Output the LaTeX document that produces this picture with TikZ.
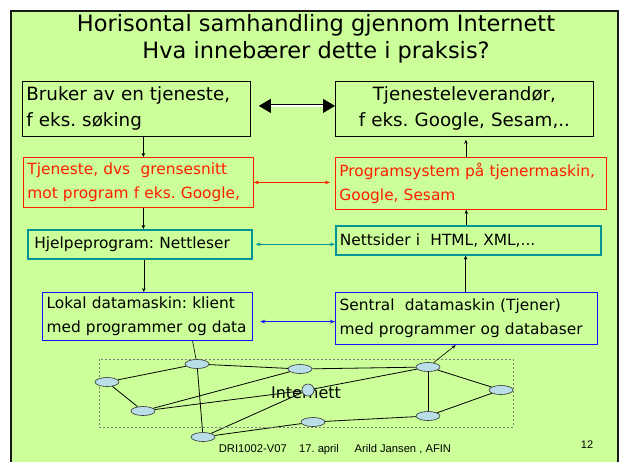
\documentclass[tikz,border=0pt]{standalone}
\usepackage{fontspec}
\setmainfont{DejaVu Sans}
\newfontfamily\fotfont{Liberation Sans}
\usetikzlibrary{shapes.geometric,arrows.meta}
\pgfdeclarelayer{bunn}
\pgfdeclarelayer{kanter}
\pgfsetlayers{bunn,kanter,main}
\definecolor{lysgronn}{RGB}{204,255,153}
\definecolor{blaagraa}{RGB}{185,222,232}
\definecolor{turkis}{RGB}{0,150,150}
\definecolor{rod}{RGB}{255,30,0}
\definecolor{blaa}{RGB}{20,20,255}
\frenchspacing

\begin{document}
\begin{tikzpicture}[x=1pt,y=-1pt,
    boks/.style={draw, anchor=north west, inner xsep=4pt, inner ysep=3pt, align=left,
      font=\fontsize{15.4}{24}\selectfont},
    stor/.style={font=\fontsize{18.3}{26}\selectfont},
    ruter/.style={ellipse, draw=black!80, fill=blaagraa, line width=0.6pt,
      minimum width=24pt, minimum height=9pt, inner sep=0pt},
    kant/.style={line width=0.8pt},
    pil/.style={-{Stealth[length=4pt,width=3.5pt]}, line width=0.5pt}]
    \useasboundingbox (0,0) rectangle (620,461);

    % lysbildet
    \begin{pgfonlayer}{bunn}
        \fill[white] (0,0) rectangle (620,461);
        \draw[fill=lysgronn, line width=2pt, draw=black!90] (11,11) rectangle (618,475);
    \end{pgfonlayer}

    % tittel
    \node[font=\fontsize{22.5}{27}\selectfont, align=center] (tittel) at (316,39)
        {Horisontal samhandling gjennom Internett\\Hva innebærer dette i praksis?};

    % venstre side
    \node[boks, stor, text width=220pt, minimum height=55pt, line width=0.8pt] (bruker) at (22,81)
        {Bruker av en tjeneste,\\f eks. søking};
    \node[boks, draw=rod, text=rod, text width=222pt, minimum height=50pt, line width=0.8pt] (tjeneste) at (23,157)
        {Tjeneste, dvs\ \ grensesnitt\\mot program f eks. Google,};
    \node[boks, draw=turkis, text width=216pt, minimum height=29pt, line width=1.6pt] (hjelp) at (27,229)
        {\,Hjelpeprogram: Nettleser};
    \node[boks, draw=blaa, text width=202pt, minimum height=48pt, line width=1.2pt] (lokal) at (42,292)
        {Lokal datamaskin: klient\\med programmer og data};

    % hoyre side
    \node[boks, stor, align=center, text width=250pt, minimum height=55pt, line width=0.8pt] (leverandor) at (335,81)
        {Tjenesteleverandør,\\f eks. Google, Sesam,..};
    \node[boks, draw=rod, text=rod, text width=263pt, minimum height=52pt, line width=0.8pt] (program) at (335,157)
        {Programsystem på tjenermaskin,\\Google, Sesam};
    \node[boks, draw=turkis, text width=257pt, minimum height=29pt, line width=1.6pt] (nettsider) at (335,225)
        {Nettsider i\ \ HTML, XML,...};
    \node[boks, draw=blaa, text width=254pt, minimum height=52pt, line width=1.2pt] (sentral) at (335,292)
        {Sentral\ \ datamaskin (Tjener)\\med programmer og databaser};

    % piler mellom boksene
    \draw[{Triangle[length=12pt,width=14pt]}-{Triangle[length=12pt,width=14pt]}, line width=0.9pt,
        double=white, double distance=1.2pt] ([xshift=8pt,yshift=3pt]bruker.east) -- ([yshift=3pt]bruker.east -| leverandor.west);
    \draw[{Stealth[length=5pt]}-{Stealth[length=5pt]}, rod, line width=0.9pt]
        (tjeneste.east) -- ([xshift=-5pt]tjeneste.east -| program.west);
    \draw[{Stealth[length=5pt]}-{Stealth[length=5pt]}, turkis, line width=0.9pt]
        ([xshift=3pt]hjelp.east) -- (hjelp.east -| nettsider.west);
    \draw[{Stealth[length=5pt]}-{Stealth[length=5pt]}, blaa, line width=0.9pt]
        ([xshift=7pt,yshift=-5pt]lokal.east) -- ([yshift=-5pt]lokal.east -| sentral.west);

    \draw[pil] ([xshift=7pt]bruker.south) -- ([xshift=7pt]bruker.south |- tjeneste.north);
    \draw[pil] ([xshift=5pt]tjeneste.south) -- ([xshift=5pt]tjeneste.south |- hjelp.north);
    \draw[pil] ([xshift=4pt]hjelp.south) -- ([xshift=4pt]hjelp.south |- lokal.north);
    \draw[pil] ([xshift=-5pt]program.north) -- ([xshift=-5pt,yshift=-3pt]program.north |- leverandor.south);
    \draw[pil] ([xshift=-2pt]nettsider.north) -- ([xshift=-2pt]nettsider.north |- program.south);
    \draw[pil] ([xshift=-1pt]sentral.north) -- ([xshift=-1pt]sentral.north |- nettsider.south);

    % Internett
    \draw[dashed, black!50, dash pattern=on 2pt off 2pt, line width=0.5pt] (99,359) rectangle (513,427);
    \node[font=\fontsize{16}{18}\selectfont] (nett) at (306,393) {Internett};

    \node[ruter] (r1) at (197,364) {};
    \node[ruter] (r2) at (107,382) {};
    \node[ruter] (r3) at (300,369) {};
    \node[ruter] (r4) at (428,367) {};
    \node[ruter] (r5) at (501,390) {};
    \node[circle, draw=black!80, fill=blaagraa, line width=0.6pt, minimum size=12pt, inner sep=0pt] (r6) at (308,390) {};
    \node[ruter] (r7) at (143,411) {};
    \node[ruter] (r8) at (428,416) {};
    \node[ruter] (r9) at (313,422) {};
    \node[ruter] (r10) at (203,437) {};

    \begin{pgfonlayer}{kanter}
        \foreach \fra/\til in {r1/r2,r1/r3,r3/r4,r2/r7,r7/r3,r7/r6,r1/r10,r10/r6,r6/r4,r10/r9,r9/r8,r8/r5,r4/r5,r4/r8}
            \draw[kant] (\fra) -- (\til);
        \draw[line width=0.6pt] ([xshift=45pt]lokal.south) -- (r1);
    \end{pgfonlayer}
    \draw[pil, line width=0.6pt] (r4) -- ([xshift=-11pt]sentral.south);

    % bunntekst
    \node[font=\fotfont\fontsize{11.2}{13}\selectfont] (fot) at (335,450)
        {DRI1002-V07\hspace{1.1em}17. april\hspace{1.4em}Arild Jansen , AFIN};
    \node[font=\fotfont\fontsize{11}{12}\selectfont] (side) at (587,445) {12};
\end{tikzpicture}
\end{document}
